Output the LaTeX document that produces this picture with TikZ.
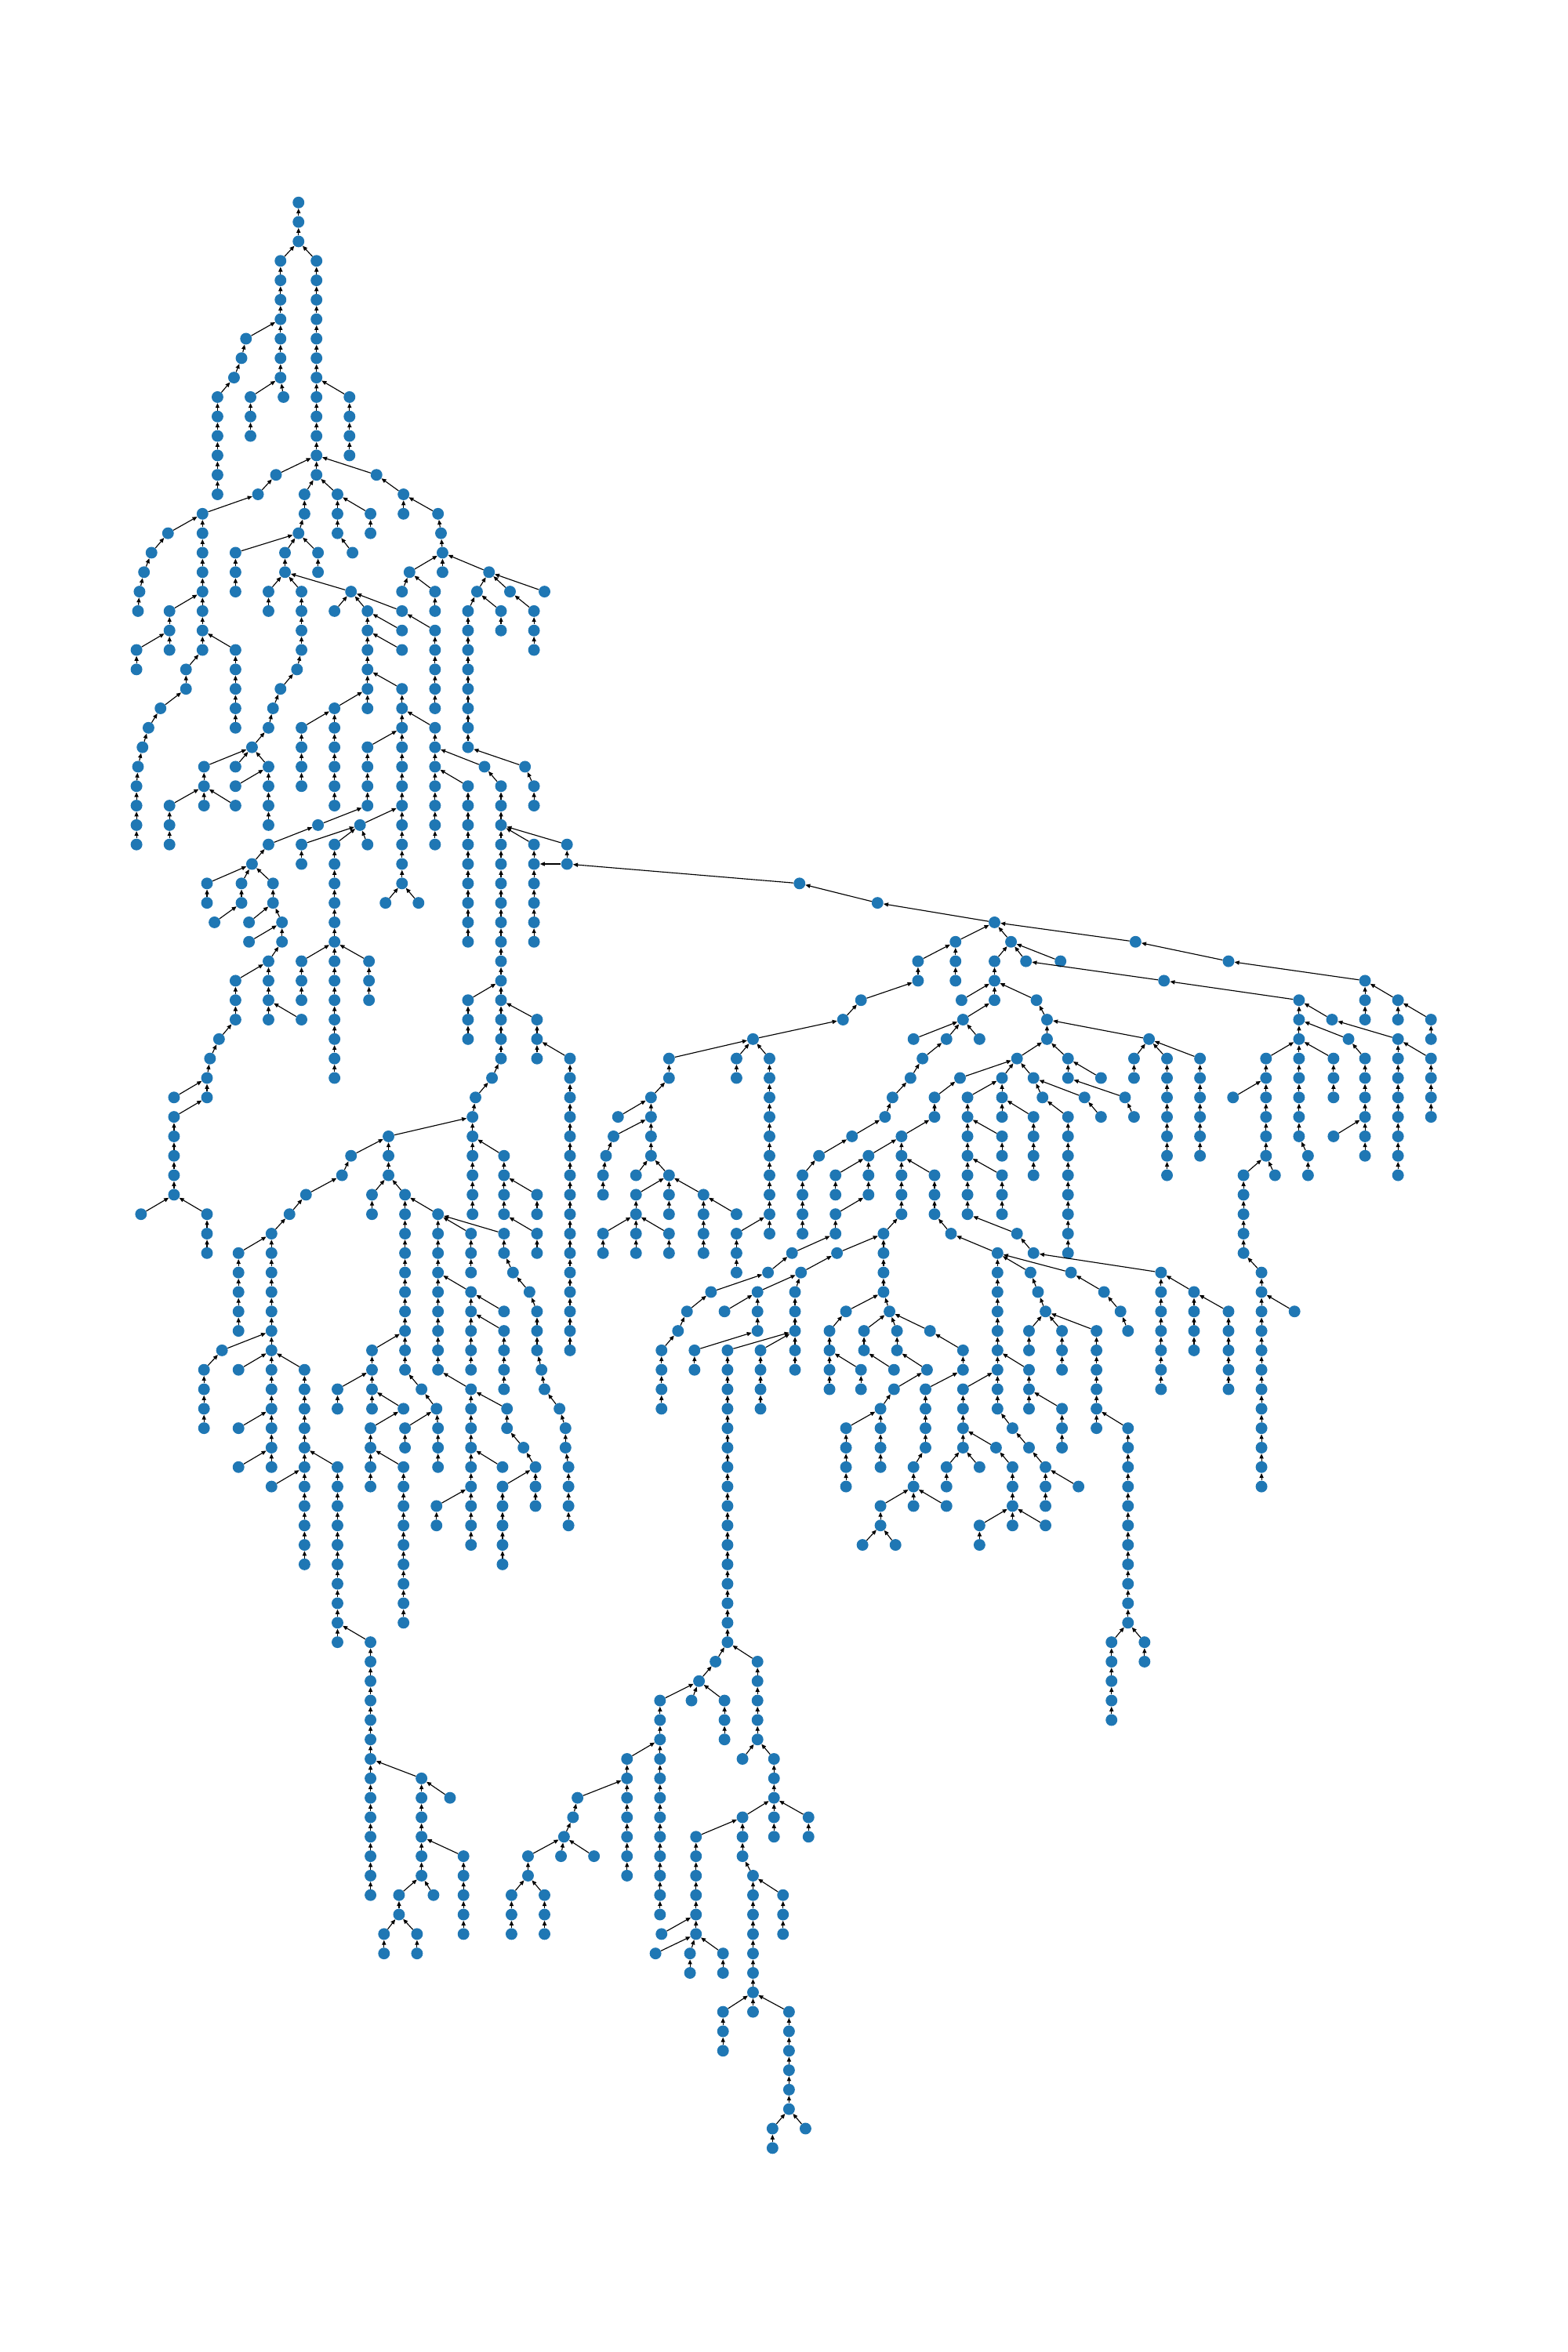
\documentclass[tikz,border=0pt]{standalone}
\usepackage{xcolor}
\usepackage{tikz}
\usetikzlibrary{arrows.meta}

\definecolor{mplblue}{RGB}{31,119,180}

% runs of nodes: x / first level / last level / parent x / parent level
\def\runs{%
199/0/2/0/0, 187/3/9/199/2, 211/3/14/199/2, 164/7/7/187/6, 161/8/8/164/7,
156/9/9/161/8, 145/10/15/156/9, 167/10/12/187/9, 189/10/10/187/9, 233/10/13/211/9,
184/14/14/211/13, 251/14/14/211/13, 172/15/15/184/14, 203/15/16/211/14,
225/15/17/211/14, 269/15/16/251/14,
135/16/23/172/15, 112/17/17/135/16, 101/18/18/112/17, 96/19/19/101/18,
93/20/20/96/19, 92/21/21/93/20, 113/21/23/135/20, 91/23/24/113/22,
157/23/27/135/22, 124/24/25/135/23, 107/26/26/124/25, 99/27/27/107/26,
95/28/28/99/27, 92/29/29/95/28, 91/30/33/92/29,
199/17/17/203/16, 157/18/20/199/17, 190/18/19/199/17, 212/18/19/199/17,
179/20/21/190/19, 201/20/23/190/19, 198/24/24/201/23, 187/25/25/198/24,
182/26/26/187/25, 179/27/27/182/26, 168/28/28/179/27,
234/20/20/190/19, 223/21/21/234/20, 245/21/26/234/20, 268/21/21/234/20,
268/22/22/245/21, 268/23/23/245/22, 268/25/35/245/24,
247/16/17/225/15, 235/18/18/225/17, 292/16/16/269/15, 294/17/17/292/16,
295/18/19/294/17, 273/19/19/295/18, 326/19/19/295/18, 268/20/20/273/19,
290/20/21/273/19, 318/20/20/326/19, 340/20/20/326/19, 363/20/20/326/19,
312/21/28/318/20, 334/21/22/318/20, 356/21/23/340/20,
290/22/26/268/21, 290/27/33/268/26, 223/26/31/245/25, 201/27/30/223/26,
245/28/31/268/27, 212/32/32/245/31, 240/32/32/268/31,
179/29/32/168/28, 179/33/33/212/32, 157/29/29/168/28, 157/30/30/179/29,
157/31/31/136/30, 136/29/31/168/28, 113/31/33/136/30,
323/29/29/290/28, 334/30/44/323/29, 350/29/29/312/28, 356/30/31/350/29,
312/30/38/290/29, 356/33/38/334/32, 378/33/34/334/32,
533/35/35/378/34, 585/36/36/533/35, 663/37/37/585/36,
168/34/34/179/33, 138/35/36/168/34, 161/35/36/168/34, 182/35/36/168/34,
201/33/34/240/32, 223/33/45/240/32, 245/33/33/240/32, 257/36/36/268/35,
279/36/36/268/35, 143/37/37/161/36, 166/37/37/182/36, 188/37/38/182/36,
166/38/38/188/37, 179/39/42/188/38, 201/39/41/223/38, 246/39/41/223/38,
157/40/42/179/39, 201/42/42/179/41, 312/41/43/334/40, 358/42/44/334/41,
146/43/43/157/42, 140/44/44/146/43, 138/45/46/140/44, 328/45/45/334/44,
317/46/46/328/45, 116/46/46/138/45, 116/47/51/138/46, 315/47/52/317/46,
259/48/50/315/47, 336/49/52/315/48, 234/49/49/259/48, 228/50/50/234/49,
204/51/51/228/50, 248/51/52/259/50, 270/51/60/259/50, 358/51/52/336/50,
94/52/52/116/51, 138/52/54/116/51, 193/52/52/204/51, 292/52/60/270/51,
181/53/65/193/52, 314/53/55/292/52, 336/53/54/292/52, 358/53/54/336/52,
159/54/58/181/53, 342/55/55/336/54, 314/56/60/292/55, 353/56/56/342/55,
336/57/57/314/56, 358/57/59/353/56, 336/58/61/314/57, 148/59/59/181/58,
248/59/62/270/58, 136/60/63/148/59, 159/60/60/181/59, 203/60/70/181/59,
361/60/60/358/59, 225/61/62/248/60, 281/61/61/270/60, 314/61/69/292/60,
363/61/61/361/60, 269/62/62/248/61, 291/62/62/281/61, 338/62/63/314/61,
373/62/62/363/61, 159/63/63/181/62, 247/63/66/269/62, 270/63/64/291/62,
292/63/65/291/62, 377/63/64/373/62, 349/64/64/338/63, 159/65/65/181/64,
225/65/74/203/64, 269/65/73/247/64, 335/65/65/314/64, 357/65/67/349/64,
379/65/68/377/64, 181/66/66/203/65, 335/66/70/357/65, 291/67/68/314/66,
247/74/87/225/73, 281/81/86/247/80, 300/82/82/281/81, 309/85/89/281/84,
266/87/88/281/86, 289/87/87/281/86, 256/89/90/266/88, 278/89/90/266/88,
637/38/40/663/37, 674/38/38/663/37, 612/39/40/637/38, 663/39/41/674/38,
684/39/39/674/38, 707/39/39/674/38, 757/38/38/663/37, 819/39/39/757/38,
574/41/41/612/40, 641/41/41/663/40, 691/41/41/663/40, 562/42/42/574/41,
642/42/42/663/41, 502/43/43/562/42, 609/43/43/642/42, 631/43/43/642/42,
653/43/43/642/42, 446/44/45/502/43, 491/44/45/502/43, 513/44/53/502/43,
380/44/59/358/43, 615/44/44/631/43, 678/44/44/698/43, 607/45/45/615/44,
640/45/45/678/44, 668/45/47/678/44, 434/46/49/446/45, 595/46/46/607/45,
623/46/47/640/45, 645/46/52/668/45, 412/47/47/434/46, 590/47/47/595/46,
409/48/48/434/47, 568/48/48/590/47, 601/48/52/623/47, 668/48/49/645/47,
404/49/49/409/48, 546/49/49/568/48, 579/49/51/601/48, 402/50/51/404/49,
424/50/50/434/49, 446/50/52/434/49, 535/50/53/546/49, 557/50/51/579/49,
623/50/52/601/49, 668/50/52/645/49, 424/51/54/446/50, 469/51/54/446/50,
491/52/52/469/51, 557/52/53/579/51, 402/53/54/424/52, 446/53/54/424/52,
491/53/55/513/52, 589/53/56/601/52, 634/53/53/623/52, 678/53/53/645/52,
528/54/54/557/53, 558/54/54/589/53, 665/54/62/634/53, 512/55/55/528/54,
534/55/55/558/54, 474/56/56/512/55, 505/56/58/534/55, 530/56/60/534/55,
910/40/42/819/39, 776/40/40/684/39, 866/41/48/776/40, 932/41/42/910/40,
698/42/43/691/41, 888/42/42/866/41, 954/42/43/932/41, 766/43/43/698/42,
899/43/43/866/42, 932/43/50/888/42, 712/44/45/698/43, 756/44/45/766/43,
778/44/50/766/43, 800/44/49/766/43, 844/44/49/866/43, 889/44/46/866/43,
910/44/49/899/43, 954/44/47/932/43, 689/45/45/678/44, 734/45/45/712/44,
695/46/46/689/45, 723/46/46/689/45, 750/46/46/712/45, 822/46/46/844/45,
689/47/50/668/46, 712/47/54/695/46, 734/47/47/723/46, 756/47/47/750/46,
889/48/48/910/47, 872/49/50/866/48, 829/50/54/844/49, 850/50/50/844/49,
689/54/54/678/53, 687/55/55/665/54, 714/55/55/665/54, 774/55/61/689/54,
841/55/66/829/54, 692/56/56/687/55, 736/56/56/714/55, 796/56/59/774/55,
697/57/57/692/56, 747/57/57/736/56, 819/57/61/796/56, 863/57/57/841/56,
686/58/59/697/57, 708/58/60/697/57, 731/58/63/697/57, 752/58/58/747/57,
686/60/62/665/59, 675/63/63/665/62, 708/62/64/686/61, 752/63/73/731/62,
686/64/64/675/63, 664/64/64/642/63, 697/65/67/686/64, 675/65/68/664/64,
719/66/66/697/65, 697/68/68/675/67, 741/74/78/752/73, 763/74/75/752/73,
458/57/57/474/56, 483/57/57/505/56, 564/57/57/589/56, 593/57/57/589/56,
452/58/58/458/57, 553/58/61/564/57, 576/58/59/593/57, 598/58/59/593/57,
620/58/58/593/57, 441/59/62/452/58, 463/59/60/505/58, 485/59/74/530/58,
507/59/62/530/58, 642/59/60/620/58, 574/60/61/553/59, 596/60/60/576/59,
618/60/60/598/59, 596/61/61/618/60, 617/61/64/642/60, 642/61/64/665/60,
587/62/65/596/61, 564/63/66/587/62, 609/65/67/617/64, 631/65/66/642/64,
653/65/65/642/64, 587/67/68/609/66, 631/67/67/609/66, 653/68/69/675/67,
575/69/69/587/68, 597/69/69/587/68,
477/75/75/485/74, 505/75/79/485/74, 466/76/76/477/75, 440/77/88/466/76,
461/77/77/466/76, 483/77/79/466/76, 418/80/86/440/79, 495/80/80/505/79,
516/80/84/505/79, 385/82/82/418/81, 382/83/83/385/82, 495/83/85/516/82,
539/83/84/516/82, 376/84/84/382/83, 464/84/89/495/83, 352/85/86/376/84,
374/85/85/376/84, 396/85/85/376/84, 502/86/93/495/85, 341/87/89/352/86,
363/87/89/352/86, 522/87/89/502/86, 441/89/89/464/88, 437/90/90/464/89,
460/90/91/464/89, 482/90/91/464/89, 482/93/95/502/92, 526/93/98/502/92,
515/99/100/526/98, 537/99/99/526/98}

\begin{document}
\begin{tikzpicture}[
    x=0.05cm, y=0.05cm,
    treenode/.style={
        circle, fill=mplblue, draw=none,
        inner sep=0pt, minimum size=0.39cm
    },
    treelink/.style={-{Triangle[length=4.5pt,width=3.8pt]}, line width=0.85pt, black}
]
\useasboundingbox (0,0) rectangle (1045,-1568);

% Nodes
\foreach \x/\a/\b/\px/\pl in \runs {
    \foreach \l in {\a,...,\b} {
        \node[treenode] (n\x-\l) at (\x,{-135-12.97*\l}) {};
    }
}

% Links to parents
\foreach \x/\a/\b/\px/\pl in \runs {
    \ifnum\a>0\relax
        \draw[treelink] (n\x-\a) -- (n\px-\pl);
    \fi
    \foreach \l in {\a,...,\b} {
        \ifnum\l>\a\relax
            \pgfmathtruncatemacro\m{\l-1}
            \draw[treelink] (n\x-\l) -- (n\x-\m);
        \fi
    }
}

% Cross link
\draw[treelink] (n378-34) -- (n356-34);

\end{tikzpicture}
\end{document}
